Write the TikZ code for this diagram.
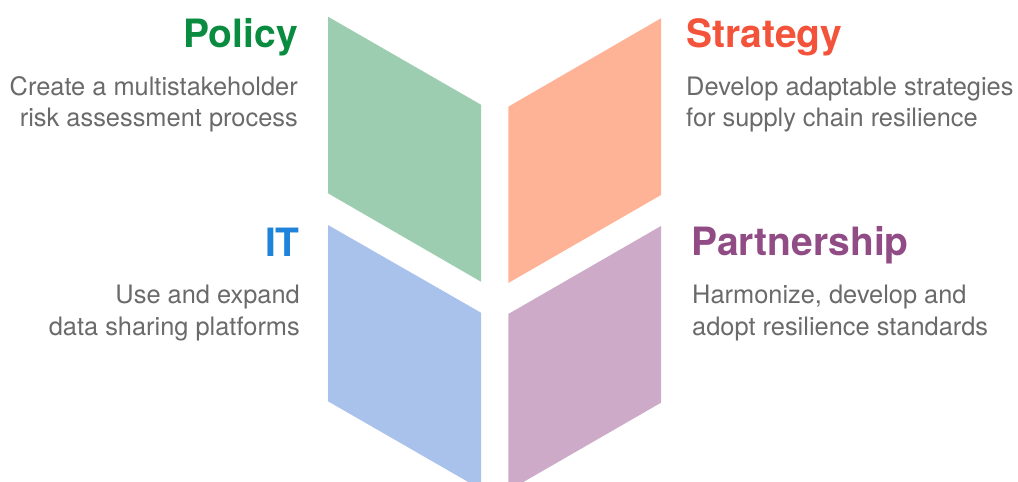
\documentclass[tikz,border=0pt]{standalone}
\usepackage{fontspec}
\setmainfont{TeX Gyre Heros}
\definecolor{fgreen}{HTML}{9DCDB0}
\definecolor{forange}{HTML}{FFB396}
\definecolor{fblue}{HTML}{A9C2EB}
\definecolor{fpurple}{HTML}{CDAAC8}
\definecolor{tgreen}{HTML}{098B40}
\definecolor{torange}{HTML}{F2533A}
\definecolor{tblue}{HTML}{1F83D9}
\definecolor{tpurple}{HTML}{914B85}
\definecolor{bodygray}{HTML}{6A6A6A}
\tikzset{
  titletext/.style={inner sep=0pt, font=\fontsize{39}{41}\selectfont\bfseries},
  bodytext/.style={inner sep=0pt, text=bodygray, font=\fontsize{25.4}{31.5}\selectfont},
}
\begin{document}
\begin{tikzpicture}[x=1pt,y=-1pt]
\useasboundingbox (0,0) rectangle (1018,482);
\begin{scope}
\clip (0,0) rectangle (1018,482);
\fill[fgreen] (328,16.7) -- (481,104.7) -- (481,281.7) -- (328,193.3) -- cycle;
\fill[forange] (661,18.3) -- (508.3,106.7) -- (508.3,283) -- (661,195) -- cycle;
\fill[fblue] (328,225) -- (481,312.7) -- (481,489.3) -- (328,401.3) -- cycle;
\fill[fpurple] (661,226) -- (508.3,314) -- (508.3,490.7) -- (661,402.7) -- cycle;
\end{scope}
% titles
\node[titletext, text=tgreen, anchor=base east] (policy) at (298,47) {Policy};
\node[titletext, text=torange, anchor=base west] (strategy) at (686,47) {Strategy};
\node[titletext, text=tblue, anchor=base east] (it) at (300,256) {IT};
\node[titletext, text=tpurple, anchor=base west] (partner) at (691,255) {Partnership};
% bodies (base anchor = last line's baseline)
\node[bodytext, anchor=base east, align=right] (policyb) at (298,126.5) {Create a multistakeholder\\risk assessment process};
\node[bodytext, anchor=base west, align=left] (strategyb) at (686,126.5) {Develop adaptable strategies\\for supply chain resilience};
\node[bodytext, anchor=base east, align=right] (itb) at (300,335) {Use and expand\\data sharing platforms};
\node[bodytext, anchor=base west, align=left] (partnerb) at (692,335) {Harmonize, develop and\\adopt resilience standards};
\end{tikzpicture}
\end{document}
